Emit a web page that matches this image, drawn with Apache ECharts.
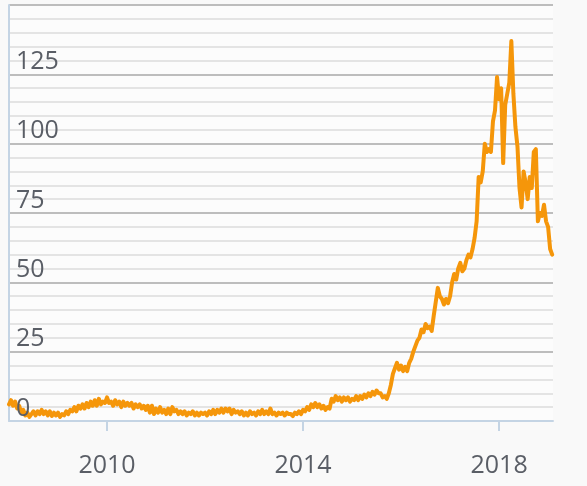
<!DOCTYPE html>
<html><head><meta charset="utf-8">
<script src="https://cdn.jsdelivr.net/npm/echarts@6/dist/echarts.min.js"></script>
<style>html,body{margin:0;padding:0;background:#f9f9f9}#c{width:587px;height:486px}</style>
</head><body><div id="c"></div>
<script>
// Time base: first value at start of 2008, one value every half month
const startYear = 2008;
const stepsPerYear = 24;
const xMin = 2008;
const xMax = 2019.1;
const tickYears = [2010, 2014, 2018];
const yMin = 0;
const yMax = 150;
const yInterval = 25;

// 2008
const values2008 = [6,7.5,5.5,7,4.5,5.5,3,4,2,3,1.5,2.5,3.5,2,3.5,2.5,4,2.5,3.5,2,3.5,1.8,3,2];
// 2009
const values2009 = [3,1.5,2.5,2,3.5,2.5,4,3.5,5,3.5,5.5,4.5,6,4.5,6.5,5,7,5.5,7.5,5.5,8,6,7,6.5];
// 2010
const values2010 = [8.5,6.5,7,5.5,7.5,6,7,5,7,5.5,6.5,5.5,6.5,4.5,6,5,6,4.5,5.5,4,5.5,3,5.5,2.5];
// 2011
const values2011 = [4.5,3,5,3,4,2.5,4.5,2.5,5,3.5,4,2.5,3.5,2.5,3.5,2,3,2.5,3.5,2,3,2,3,2.5];
// 2012
const values2012 = [3,2,3.5,2.5,4,2.5,4,3,4.5,3,4.5,3.5,4.5,2.5,4,3,3.5,2.5,3.5,2,3,2,3.5,2.5];
// 2013
const values2013 = [3,2,3.5,2.5,4,2.5,3.5,2.5,4.5,2.5,3,2,3,2.5,3,2,3,2.5,2.5,1.8,3,2.5,3.5,2.5];
// 2014
const values2014 = [4,3.5,5,4,6,5,6.5,5,6,4.5,5.5,4,5,4.5,8,7,9,7.5,8.5,7,8.5,7.5,8.5,7];
// 2015
const values2015 = [8,7.5,9,7.5,9,8,9.5,8.5,10,9,10.5,9.5,11,10,10,8.5,9,8,10,13,17,19,21,18.5];
// 2016
const values2016 = [20,18,19.5,18,21,22.5,25,27,29,30,33,32,35,33.5,34,32.5,38,43,48,45,44,42,44,42.5];
// 2017
const values2017 = [45,50,53,51,55,57,54,55,58,60,59,62,66,72,88,86,90,100,97,98,97,108,112,124];
// 2018 to early 2019
const values2018 = [116,120,93,114,118,122,137,118,106,99,84,77,90,86,80,88,84,97,98,72,75,74,78,72,70,62,60];

const values = [].concat(values2008, values2009, values2010, values2011, values2012,
  values2013, values2014, values2015, values2016, values2017, values2018);
const seriesData = values.map((v, i) => [startYear + i / stepsPerYear, v]);

const font = 'Open Sans';
const textColor = '#5a5e66';
const axisBlue = '#c4d4e4';
const lineColor = '#f5960a';

const chart = echarts.init(document.getElementById('c'), null, {renderer: 'canvas'});
chart.setOption({
  animation: false,
  backgroundColor: '#f9f9f9',
  grid: {left: 9, right: 34, top: 5, bottom: 65, outerBoundsMode: 'none', containLabel: false,
         show: true, backgroundColor: '#fcfcfc', borderWidth: 0},
  xAxis: {
    type: 'value', min: xMin, max: xMax, offset: 22,
    axisLine: {show: true, lineStyle: {color: axisBlue, width: 2}},
    axisTick: {show: true, customValues: tickYears, length: 10, lineStyle: {color: axisBlue, width: 2}},
    axisLabel: {show: true, customValues: tickYears, formatter: v => String(Math.round(v)),
      fontSize: 25, fontFamily: font, color: textColor, margin: 10},
    splitLine: {show: false}
  },
  yAxis: [{
    type: 'value', min: yMin, max: yMax, interval: yInterval,
    axisLine: {show: true, lineStyle: {color: axisBlue, width: 2}},
    axisTick: {show: false},
    axisLabel: {show: false},
    splitLine: {show: true, lineStyle: {color: '#bdbdbd', width: 2}},
    minorTick: {show: false, splitNumber: 5},
    minorSplitLine: {show: true, lineStyle: {color: '#e4e4e4', width: 2}}
  }, {
    type: 'value', min: yMin, max: yMax, interval: yInterval, position: 'left', z: 5,
    axisLine: {show: false}, axisTick: {show: false}, splitLine: {show: false},
    axisLabel: {show: true, inside: true, margin: 7, align: 'left', verticalAlign: 'bottom',
      showMaxLabel: false, fontSize: 25, fontFamily: font, color: textColor}
  }],
  series: [{
    type: 'line', data: seriesData, showSymbol: false, symbol: 'none', z: 2,
    lineStyle: {color: lineColor, width: 4, join: 'round', cap: 'round'}, itemStyle: {color: lineColor}
  }]
});
</script>
</body></html>
